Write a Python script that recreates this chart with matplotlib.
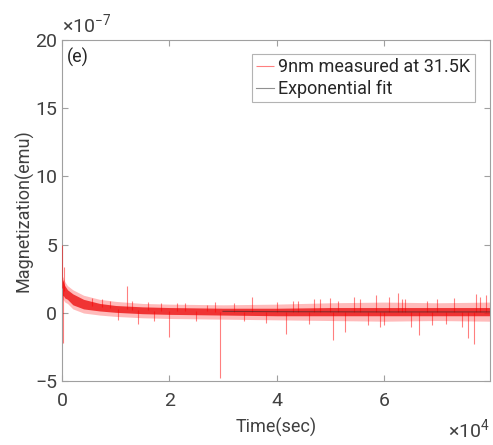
import matplotlib
matplotlib.use("Agg")
import matplotlib.pyplot as plt
import numpy as np

plt.rcParams['font.family'] = ['Roboto', 'DejaVu Sans']
plt.rcParams['mathtext.fontset'] = 'custom'
plt.rcParams['mathtext.rm'] = 'Roboto'
plt.rcParams['mathtext.it'] = 'Roboto'

# time in 1e4 s, magnetization in 1e-7 emu
# dense noise band of the measured data (core and faint fringe)
t_band = [0, 0.02, 0.05, 0.1, 0.2, 0.4, 0.7, 1.0, 1.5, 2.0, 3.0, 4.0, 5.0, 6.0, 7.0, 7.98]
m_hi = [2.4, 2.3, 2.0, 1.7, 1.4, 1.0, 0.7, 0.55, 0.45, 0.4, 0.35, 0.35, 0.4, 0.4, 0.4, 0.4]
m_lo = [1.2, 1.3, 1.1, 1.0, 0.6, 0.3, 0.15, 0.05, -0.05, -0.1, -0.15, -0.2, -0.2, -0.2, -0.2, -0.2]
m_hi2 = [2.7, 2.6, 2.3, 2.0, 1.7, 1.3, 1.0, 0.85, 0.7, 0.65, 0.6, 0.65, 0.75, 0.8, 0.75, 0.8]
m_lo2 = [0.9, 1.0, 0.8, 0.7, 0.3, 0.0, -0.15, -0.25, -0.35, -0.4, -0.45, -0.5, -0.55, -0.6, -0.55, -0.6]

# isolated spikes of the measured data
t_spike = [0.005, 0.01, 0.02, 0.04, 0.55, 0.75, 0.9, 1.05, 1.21, 1.3, 1.42, 1.6, 1.72, 1.85,
           2.0, 2.15, 2.3, 2.5, 2.7, 2.85, 2.95, 3.2, 3.4, 3.55, 3.8, 4.0, 4.17, 4.3, 4.4,
           4.6, 4.7, 4.8, 5.0, 5.05, 5.15, 5.27, 5.45, 5.55, 5.7, 5.85, 5.92, 6.0, 6.1, 6.26,
           6.33, 6.4, 6.5, 6.65, 6.8, 6.9, 7.0, 7.15, 7.3, 7.45, 7.57, 7.68, 7.72, 7.8, 7.9]
m_spike = [5.0, -2.2, 2.4, 3.4, 1.1, 1.0, 0.9, -0.5, 2.0, 0.9, -0.8, 0.8, -0.6, 0.7,
           -1.75, 0.7, 0.7, -0.6, 0.6, 0.8, -4.75, 0.7, -0.6, 1.2, -0.7, 0.8, -1.5, 0.9, 0.9,
           -0.8, 1.0, 1.0, 1.1, -2.0, 0.9, -1.4, 1.2, 1.0, -0.9, 1.3, -1.0, -0.9, 1.2, 1.5,
           1.0, 1.0, -1.0, -1.6, 0.9, -0.9, 1.0, -0.8, 1.1, -1.0, -1.8, -2.3, 1.4, 1.2, 1.3]

# exponential fit
t_fit = [3.0, 4.0, 5.0, 6.0, 7.0, 7.98]
m_fit = [0.12, 0.10, 0.09, 0.08, 0.08, 0.08]

fig = plt.figure(figsize=(4.93, 4.45), dpi=100)
ax = fig.add_axes([0.126, 0.143, 0.868, 0.768])

band_mid = (np.array(m_hi) + np.array(m_lo)) / 2
spike_base = np.interp(t_spike, t_band, band_mid)

ax.fill_between(t_band, m_lo2, m_hi2, color='#ff2020', alpha=0.3, lw=0, zorder=2)
ax.fill_between(t_band, m_lo, m_hi, color='#ee1c1c', alpha=0.85, lw=0, zorder=2)
ax.vlines(t_spike, spike_base, m_spike, color='#ff0000', alpha=0.5, lw=0.8,
          label='9nm measured at 31.5K', zorder=3)
ax.plot(t_fit, m_fit, color='#222222', alpha=0.5, lw=0.8,
        label='Exponential fit', zorder=4)

ax.set_xlim(0, 7.98)
ax.set_ylim(-5, 20)
ax.set_xticks([0, 2, 4, 6])
ax.set_yticks([-5, 0, 5, 10, 15, 20])

ax.tick_params(direction='in', top=True, right=True, labelsize=14, color='#a0a0a0',
               labelcolor='#404040', length=4)
ax.tick_params(axis='x', pad=8)
for s in ax.spines.values():
    s.set_color('#a0a0a0')
    s.set_linewidth(0.8)

# MATLAB-style exponent labels
ax.text(0.0, 1.01, r'$\times$10$^{-7}$', transform=ax.transAxes, fontsize=14,
        color='#404040', ha='left', va='bottom')
ax.text(1.0, -0.105, r'$\times$10$^{4}$', transform=ax.transAxes, fontsize=14,
        color='#404040', ha='right', va='top')

ax.set_xlabel('Time(sec)', fontsize=13, color='#404040', labelpad=5)
ax.set_ylabel('Magnetization(emu)', fontsize=13, color='#404040', labelpad=1)
ax.text(0.012, 0.975, '(e)', transform=ax.transAxes, fontsize=13, color='#262626',
        va='top', ha='left')

leg = ax.legend(loc='upper right', fontsize=13, fancybox=False, handlelength=1.0,
                handletextpad=0.2, borderpad=0.25, labelspacing=0.2,
                bbox_to_anchor=(0.985, 0.985))
leg.get_frame().set_edgecolor('#a0a0a0')
leg.get_frame().set_linewidth(0.8)
for txt in leg.get_texts():
    txt.set_color('#262626')

fig.savefig('out.png', dpi=100)
